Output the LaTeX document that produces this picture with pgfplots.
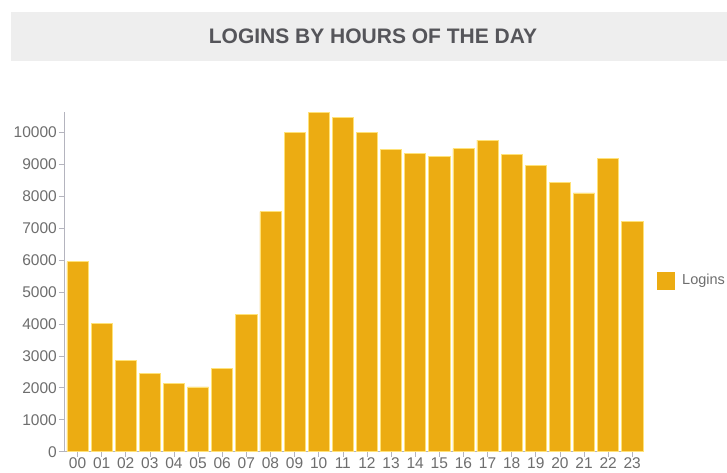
\documentclass[border=0pt]{standalone}
\usepackage{pgfplots}
\pgfplotsset{compat=1.18}
\usepackage{fontspec}
\setmainfont{Liberation Sans}
\definecolor{barfill}{RGB}{236,172,18}
\definecolor{baredge}{RGB}{255,226,120}
\definecolor{band}{RGB}{238,238,238}
\definecolor{titletxt}{RGB}{85,85,90}
\definecolor{ticktxt}{RGB}{110,110,110}
\definecolor{axline}{RGB}{180,180,190}
\begin{document}
\begin{tikzpicture}[x=1pt,y=1pt]
\useasboundingbox (0,0) rectangle (727,473);
\fill[white] (0,0) rectangle (727,473);
\fill[band] (11,473-61) rectangle (727,473-12);
\node[font=\fontsize{21}{24}\selectfont\bfseries, text=titletxt] at (373,473-36) {LOGINS BY HOURS OF THE DAY};
\begin{axis}[
  at={(64pt,21.3pt)}, anchor=south west,
  scale only axis, width=580.3pt, height=339.4pt,
  xmin=-0.56, xmax=23.5, ymin=0, ymax=10620,
  axis x line*=bottom, axis y line*=left,
  axis line style={axline,-},
  xtick={0,...,23},
  xticklabels={00,01,02,03,04,05,06,07,08,09,10,11,12,13,14,15,16,17,18,19,20,21,22,23},
  ytick={0,1000,...,10000},
  yticklabel style={/pgf/number format/1000 sep={}},
  /pgf/number format/assume math mode=true,
  tick label style={font=\fontsize{15.5}{17}\selectfont, text=ticktxt},
  xticklabel style={inner sep=1pt, yshift=0pt},
  yticklabel style={inner sep=2pt},
  tick style={axline, line width=0.6pt},
  tick align=outside, major tick length=5pt,
  scaled y ticks=false,
  clip=false,
]
\addplot[ybar, bar width=0.875, fill=barfill, draw=baredge, line width=0.6pt] coordinates {
(0,5950) (1,4010) (2,2850) (3,2450) (4,2140) (5,2030) (6,2610) (7,4300)
(8,7510) (9,10000) (10,10620) (11,10450) (12,10000) (13,9450) (14,9330) (15,9240)
(16,9480) (17,9750) (18,9300) (19,8970) (20,8420) (21,8100) (22,9170) (23,7210)
};
\end{axis}
\fill[barfill] (657,473-290) rectangle (675,473-272);
\node[anchor=west, font=\fontsize{14.5}{16}\selectfont, text=ticktxt, inner sep=0pt] at (682,473-281) {Logins};
\end{tikzpicture}
\end{document}
